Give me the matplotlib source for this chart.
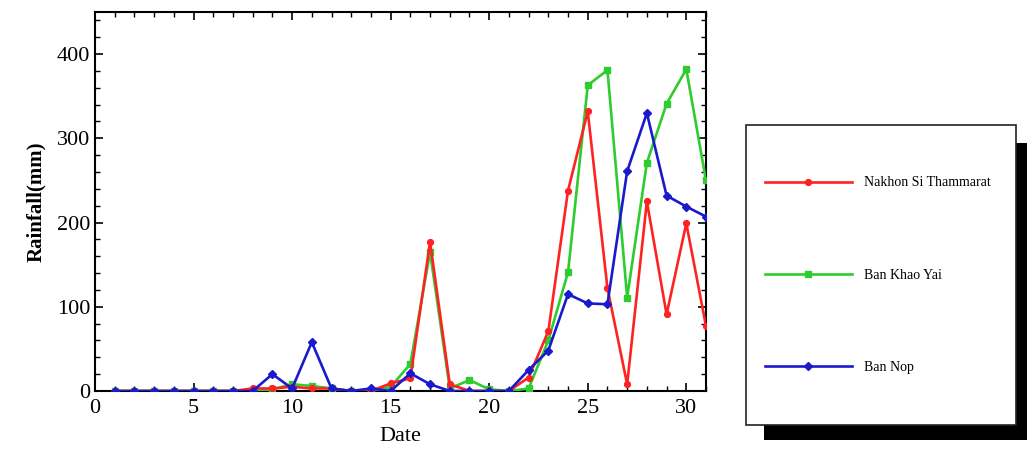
import matplotlib
matplotlib.use("Agg")
import matplotlib.pyplot as plt
from matplotlib.patches import Rectangle
from matplotlib.ticker import MultipleLocator

plt.rcParams['font.family'] = ['Liberation Serif', 'DejaVu Serif']

days = list(range(1, 32))
nakhon = [0, 0, 0, 0, 0, 0, 0, 3, 3, 5, 3, 3, 0, 0, 9, 15, 177, 8, 0, 0,
          0, 16, 71, 238, 332, 122, 8, 225, 91, 199, 77]
khao_yai = [0, 0, 0, 0, 0, 0, 0, 0, 2, 8, 6, 3, 0, 0, 5, 32, 165, 3, 13, 2,
            0, 3, 60, 141, 363, 381, 111, 271, 341, 382, 250]
ban_nop = [0, 0, 0, 0, 0, 0, 0, 0, 20, 3, 58, 3, 0, 3, 0, 21, 8, 0, 0, 0,
           0, 25, 48, 115, 104, 103, 261, 330, 232, 219, 207]
labels = ["Nakhon Si Thammarat", "Ban Khao Yai", "Ban Nop"]

W, H = 1027, 463
fig = plt.figure(figsize=(W / 100, H / 100), dpi=100)
ax = fig.add_axes([95 / W, (H - 391) / H, (706 - 95) / W, (391 - 12) / H])

lw, ms = 1.9, 4.2
l_green, = ax.plot(days, khao_yai, color='#2ecc2e', marker='s', lw=lw, ms=ms - 0.5, zorder=3)
l_red, = ax.plot(days, nakhon, color='#ff2222', marker='o', lw=lw, ms=ms, zorder=4)
l_blue, = ax.plot(days, ban_nop, color='#1a1acc', marker='D', lw=lw, ms=ms - 0.5, zorder=5)

ax.set_xlim(0, 31)
ax.set_ylim(0, 450)
ax.xaxis.set_major_locator(MultipleLocator(5))
ax.xaxis.set_minor_locator(MultipleLocator(1))
ax.yaxis.set_major_locator(MultipleLocator(100))
ax.yaxis.set_minor_locator(MultipleLocator(20))
ax.tick_params(which='both', direction='in', top=True, right=True, labelsize=16)
ax.tick_params(which='major', length=6, width=1.2)
ax.tick_params(which='minor', length=3.5, width=1.0)
ax.tick_params(axis='x', pad=6)
for s in ax.spines.values():
    s.set_linewidth(1.5)

ax.set_xlabel("Date", fontsize=16, labelpad=6)
ax.set_ylabel("Rainfall(mm)", fontsize=15, fontweight='bold', labelpad=8)

# legend panel with a solid drop shadow
fig.add_artist(Rectangle((764 / W, (H - 440) / H), (1040 - 764) / W, (440 - 143) / H,
                         transform=fig.transFigure, facecolor='black',
                         edgecolor='none', zorder=1))
fig.add_artist(Rectangle((746 / W, (H - 425) / H), (1016 - 746) / W, (425 - 125) / H,
                         transform=fig.transFigure, facecolor='white',
                         edgecolor='#222222', lw=1.2, zorder=2))
leg = fig.legend([l_red, l_green, l_blue], labels, loc='upper left',
                 bbox_to_anchor=(752 / W, (H - 164) / H), frameon=False,
                 fontsize=10, numpoints=1, handlelength=6.3, handletextpad=0.9,
                 labelspacing=5.7)
leg.set_zorder(3)

fig.savefig("out.png", dpi=100)
